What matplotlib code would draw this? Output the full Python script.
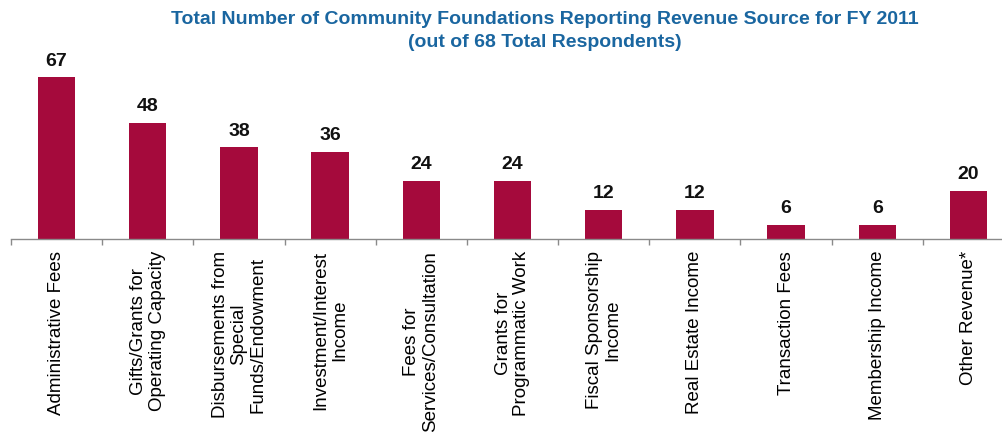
import matplotlib
matplotlib.use("Agg")
import matplotlib.pyplot as plt
import numpy as np

categories = [
    "Administrative Fees",
    "Gifts/Grants for\nOperating Capacity",
    "Disbursements from\nSpecial\nFunds/Endowment",
    "Investment/Interest\nIncome",
    "Fees for\nServices/Consultation",
    "Grants for\nProgrammatic Work",
    "Fiscal Sponsorship\nIncome",
    "Real Estate Income",
    "Transaction Fees",
    "Membership Income",
    "Other Revenue*",
]
counts = [67, 48, 38, 36, 24, 24, 12, 12, 6, 6, 20]

title_text = ("Total Number of Community Foundations Reporting Revenue Source for FY 2011\n"
              "(out of 68 Total Respondents)")

bar_color = "#A50A3C"
title_color = "#1A66A0"
bold_font = ["Liberation Sans", "DejaVu Sans"]
regular = ["Liberation Sans", "DejaVu Sans"]

W, H = 1003, 432
fig = plt.figure(figsize=(W / 100, H / 100), dpi=100)

# axes spans x 11..1014 px, baseline at 239 px from top
left_px, right_px = 11, 1014
base_px, top_px = 239, 70
ax = fig.add_axes([left_px / W, (H - base_px) / H,
                   (right_px - left_px) / W, (base_px - top_px) / H])

x = np.arange(len(categories))
bars = ax.bar(x, counts, width=0.41, color=bar_color, zorder=2)
ax.set_xlim(-0.5, len(categories) - 0.5)
ax.set_ylim(0, 70)

for rect, v in zip(bars, counts):
    ax.annotate(str(v), (rect.get_x() + rect.get_width() / 2, v),
                xytext=(0, 5.5), textcoords="offset points",
                ha="center", va="bottom", fontsize=14, fontweight="bold",
                family=bold_font, color="#111111")

for s in ("top", "left", "right"):
    ax.spines[s].set_visible(False)
ax.spines["bottom"].set_color("#8a8a8a")
ax.spines["bottom"].set_linewidth(1.0)
ax.set_yticks([])

ax.set_xticks(x)
ax.set_xticklabels(categories, rotation=90, ha="center", va="top",
                   multialignment="center", fontsize=13.5, family=regular,
                   color="#000000", linespacing=1.15)
ax.tick_params(axis="x", which="major", length=0, pad=8.6)
ax.set_xticks(np.arange(-0.5, len(categories) + 0.5, 1), minor=True)
ax.tick_params(axis="x", which="minor", length=4.3, color="#8a8a8a", width=1.0)

fig.text(545 / W, 1 - 31 / H, title_text, ha="center", va="center",
         fontsize=14, fontweight="bold", family=bold_font, color=title_color,
         linespacing=1.45)

fig.savefig("out.png", dpi=100)
